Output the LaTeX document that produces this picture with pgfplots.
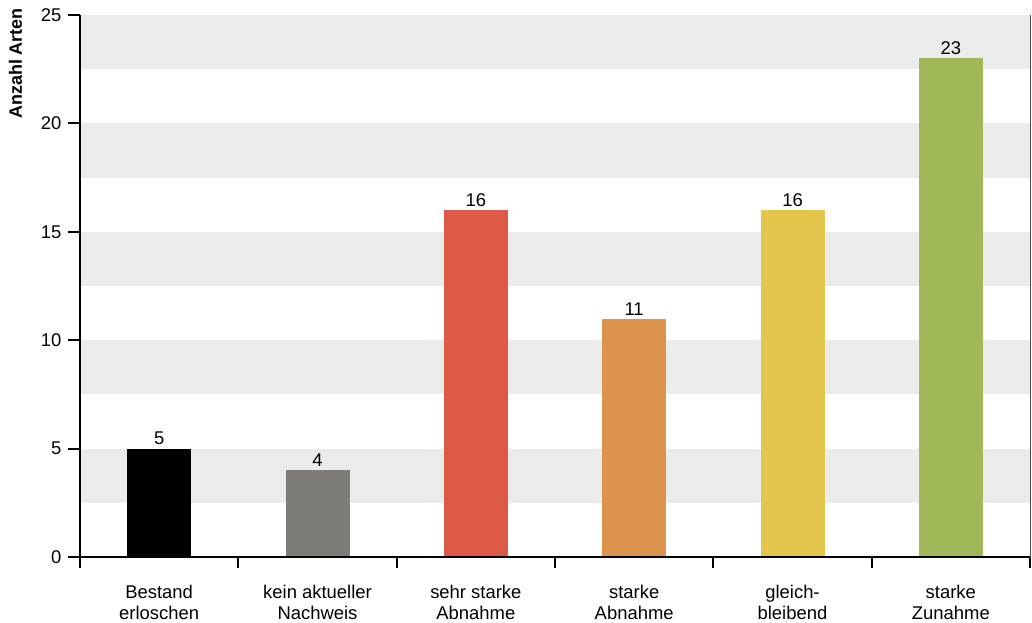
\documentclass[border=0pt]{standalone}
\usepackage{fontspec}
\setmainfont{Liberation Sans}
\usepackage{pgfplots}
\pgfplotsset{compat=1.18}

\definecolor{band}{HTML}{EBEBEB}
\definecolor{cErl}{HTML}{000000}
\definecolor{cNach}{HTML}{7F7B77}
\definecolor{cSehr}{HTML}{DE5A48}
\definecolor{cStark}{HTML}{DC944D}
\definecolor{cGleich}{HTML}{E4C64D}
\definecolor{cZu}{HTML}{A1B858}

\begin{document}
\begin{tikzpicture}
\begin{axis}[
  scale only axis,
  width=950bp, height=542bp,
  ymin=0, ymax=25,
  xmin=-0.5, xmax=5.5,
  ybar, bar width=64bp,
  ytick={0,5,...,25},
  ytick pos=left,
  xtick={0,1,2,3,4,5},
  xticklabels={Bestand\\erloschen, kein aktueller\\Nachweis, sehr starke\\Abnahme,
               starke\\Abnahme, gleich-\\bleibend, starke\\Zunahme},
  major x tick style={draw=none},
  minor xtick={-0.5,0.5,...,5.5},
  xtick pos=bottom,
  tick align=outside,
  major tick length=12bp,
  minor tick length=11bp,
  ytick style={line width=2.2bp, black},
  minor x tick style={line width=2.2bp, black},
  axis line style={draw=black!70, line width=0.8bp},
  /pgf/number format/assume math mode=true,
  tick label style={font=\fontsize{18.5}{21}\selectfont},
  yticklabel style={xshift=-3bp},
  xticklabel style={align=center, font=\fontsize{18.5}{21}\selectfont, yshift=-13bp},
  nodes near coords,
  nodes near coords style={font=\fontsize{18.5}{21}\selectfont, /pgf/number format/assume math mode=true},
  clip=false,
]
\pgfplotsinvokeforeach{2.5,7.5,12.5,17.5,22.5}{
  \fill[band] (axis cs:-0.5,#1) rectangle (axis cs:5.5,#1+2.5);
}
\addplot[fill=cErl, draw=none, bar shift=0pt] coordinates {(0,5)};
\addplot[fill=cNach, draw=none, bar shift=0pt] coordinates {(1,4)};
\addplot[fill=cSehr, draw=none, bar shift=0pt] coordinates {(2,16)};
\addplot[fill=cStark, draw=none, bar shift=0pt] coordinates {(3,11)};
\addplot[fill=cGleich, draw=none, bar shift=0pt] coordinates {(4,16)};
\addplot[fill=cZu, draw=none, bar shift=0pt] coordinates {(5,23)};
\draw[line width=2.5bp, black] (rel axis cs:0,1) -- (rel axis cs:0,0) -- (rel axis cs:1,0);
\end{axis}
\node[rotate=90, anchor=east, inner sep=0pt, font=\bfseries\fontsize{18}{21}\selectfont]
  at ([shift={(-64.5bp,7bp)}]current axis.north west) {Anzahl Arten};
\pgfresetboundingbox
\path[use as bounding box] ([shift={(-80bp,-66bp)}]current axis.south west)
  rectangle ([shift={(2bp,15bp)}]current axis.north east);
\end{tikzpicture}
\end{document}
